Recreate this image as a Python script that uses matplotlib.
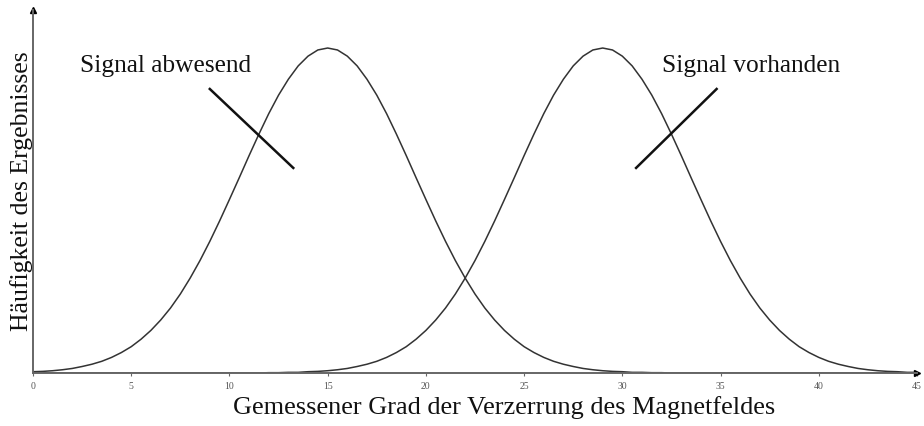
import matplotlib
matplotlib.use("Agg")
import matplotlib.pyplot as plt

plt.rcParams['font.family'] = ['Liberation Serif', 'DejaVu Serif']

# values every 0.5 units (peak = 100)
x_vals = [i * 0.5 for i in range(91)]
abwesend = [0.4, 0.5, 0.7, 1.0, 1.4, 2.0, 2.7, 3.6, 4.8, 6.3,
            8.1, 10.4, 13.1, 16.3, 20.0, 24.3, 29.2, 34.6, 40.5, 46.8,
            53.4, 60.1, 66.9, 73.5, 79.8, 85.5, 90.4, 94.5, 97.5, 99.4,
            100.0,
            99.4, 97.5, 94.5, 90.4, 85.5, 79.8, 73.5, 66.9, 60.1, 53.4,
            46.8, 40.5, 34.6, 29.2, 24.3, 20.0, 16.3, 13.1, 10.4, 8.1,
            6.3, 4.8, 3.6, 2.7, 2.0, 1.4, 1.0, 0.7, 0.5, 0.4,
            0.2, 0.2, 0.1, 0.1, 0, 0, 0, 0, 0, 0,
            0, 0, 0, 0, 0, 0, 0, 0, 0, 0,
            0, 0, 0, 0, 0, 0, 0, 0, 0, 0]
vorhanden = [0, 0, 0, 0, 0, 0, 0, 0, 0, 0,
             0, 0, 0, 0, 0, 0, 0, 0, 0, 0,
             0, 0, 0, 0, 0.1, 0.1, 0.2, 0.2, 0.4,
             0.5, 0.7, 1.0, 1.4, 2.0, 2.7, 3.6, 4.8, 6.3,
             8.1, 10.4, 13.1, 16.3, 20.0, 24.3, 29.2, 34.6, 40.5, 46.8,
             53.4, 60.1, 66.9, 73.5, 79.8, 85.5, 90.4, 94.5, 97.5, 99.4,
             100.0,
             99.4, 97.5, 94.5, 90.4, 85.5, 79.8, 73.5, 66.9, 60.1, 53.4,
             46.8, 40.5, 34.6, 29.2, 24.3, 20.0, 16.3, 13.1, 10.4, 8.1,
             6.3, 4.8, 3.6, 2.7, 2.0, 1.4, 1.0, 0.7, 0.5, 0.4,
             0.2, 0.2]
x_ticks = [0, 5, 10, 15, 20, 25, 30, 35, 40, 45]

labels = ["Signal abwesend", "Signal vorhanden"]
label_pos = [(2.4, 94.5), (32.0, 94.5)]
pointer_lines = [((9.0, 13.25), (87.4, 63.1)), ((30.7, 34.8), (63.1, 87.4))]

fig = plt.figure(figsize=(9.24, 4.26), dpi=100)
ax = fig.add_axes([33 / 924, 53 / 426, 884 / 924, 363 / 426])

ax.plot(x_vals, abwesend, color='#333333', lw=1.1)
ax.plot(x_vals, vorhanden, color='#333333', lw=1.1)

for (lx, ly), txt in zip(label_pos, labels):
    ax.text(lx, ly, txt, fontsize=18.3, color='#111111', va='center', ha='left')
for xs, ys in pointer_lines:
    ax.plot(xs, ys, color='#111111', lw=1.8)

ax.set_xlim(0, 45)
ax.set_ylim(0, 111.7)
ax.set_xticks(x_ticks)
ax.set_xticklabels([str(t) for t in x_ticks], fontsize=7, color='#555555')
ax.tick_params(axis='x', length=2.5, width=0.8, color='#666666', pad=4)
ax.set_yticks([])

for s in ['top', 'right']:
    ax.spines[s].set_visible(False)
for s in ['left', 'bottom']:
    ax.spines[s].set_color('#666666')
    ax.spines[s].set_linewidth(1.4)

# arrow heads at the axis ends
ax.plot(1, 0, '>', color='black', ms=5, transform=ax.transAxes, clip_on=False)
ax.plot(0, 1, '^', color='black', ms=5, transform=ax.transAxes, clip_on=False)

ax.set_xlabel("Gemessener Grad der Verzerrung des Magnetfeldes", fontsize=18.9,
              color='#111111')
ax.xaxis.set_label_coords((504 - 33) / 884, -0.064)
ax.set_ylabel("Häufigkeit des Ergebnisses", fontsize=18.5, color='#111111',
              labelpad=0)

fig.savefig("out.png", dpi=100)
